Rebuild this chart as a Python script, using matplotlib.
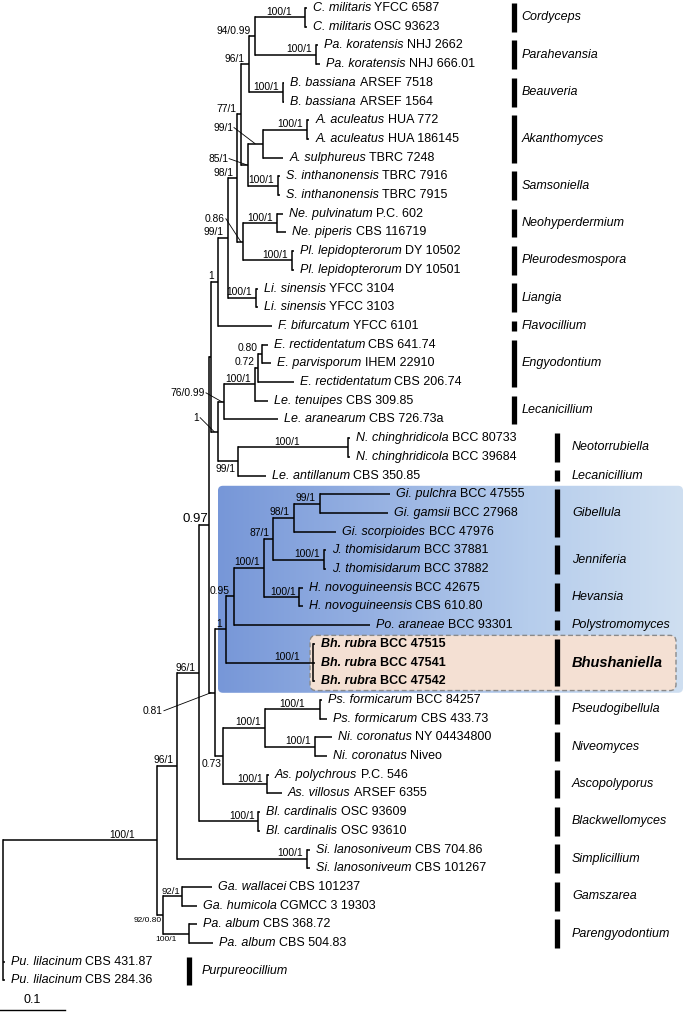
import matplotlib.pyplot as plt
import numpy as np
from matplotlib.patches import FancyBboxPatch
from matplotlib.colors import LinearSegmentedColormap

plt.rcParams['font.family'] = ['Liberation Sans', 'DejaVu Sans']

# tip labels, top to bottom
SPECIES = ["C. militaris", "C. militaris", "Pa. koratensis", "Pa. koratensis",
           "B. bassiana", "B. bassiana", "A. aculeatus", "A. aculeatus",
           "A. sulphureus", "S. inthanonensis", "S. inthanonensis",
           "Ne. pulvinatum", "Ne. piperis", "Pl. lepidopterorum",
           "Pl. lepidopterorum", "Li. sinensis", "Li. sinensis",
           "F. bifurcatum", "E. rectidentatum", "E. parvisporum",
           "E. rectidentatum", "Le. tenuipes", "Le. aranearum",
           "N. chinghridicola", "N. chinghridicola", "Le. antillanum",
           "Gi. pulchra", "Gi. gamsii", "Gi. scorpioides", "J. thomisidarum",
           "J. thomisidarum", "H. novoguineensis", "H. novoguineensis",
           "Po. araneae", "Bh. rubra", "Bh. rubra", "Bh. rubra",
           "Ps. formicarum", "Ps. formicarum", "Ni. coronatus", "Ni. coronatus",
           "As. polychrous", "As. villosus", "Bl. cardinalis", "Bl. cardinalis",
           "Si. lanosoniveum", "Si. lanosoniveum", "Ga. wallacei",
           "Ga. humicola", "Pa. album", "Pa. album", "Pu. lilacinum",
           "Pu. lilacinum"]
STRAINS = ["YFCC 6587", "OSC 93623", "NHJ 2662", "NHJ 666.01", "ARSEF 7518",
           "ARSEF 1564", "HUA 772", "HUA 186145", "TBRC 7248", "TBRC 7916",
           "TBRC 7915", "P.C. 602", "CBS 116719", "DY 10502", "DY 10501",
           "YFCC 3104", "YFCC 3103", "YFCC 6101", "CBS 641.74", "IHEM 22910",
           "CBS 206.74", "CBS 309.85", "CBS 726.73a", "BCC 80733", "BCC 39684",
           "CBS 350.85", "BCC 47555", "BCC 27968", "BCC 47976", "BCC 37881",
           "BCC 37882", "BCC 42675", "CBS 610.80", "BCC 93301", "BCC 47515",
           "BCC 47541", "BCC 47542", "BCC 84257", "CBS 433.73", "NY 04434800",
           "Niveo", "P.C. 546", "ARSEF 6355", "OSC 93609", "OSC 93610",
           "CBS 704.86", "CBS 101267", "CBS 101237", "CGMCC 3 19303",
           "CBS 368.72", "CBS 504.83", "CBS 431.87", "CBS 284.36"]
NEW_TIPS = [34, 35, 36]

# genus bars: name, first tip, last tip
CLADES = [("Cordyceps", 0, 1), ("Parahevansia", 2, 3), ("Beauveria", 4, 5),
          ("Akanthomyces", 6, 8), ("Samsoniella", 9, 10),
          ("Neohyperdermium", 11, 12), ("Pleurodesmospora", 13, 14),
          ("Liangia", 15, 16), ("Flavocillium", 17, 17),
          ("Engyodontium", 18, 20), ("Lecanicillium", 21, 22),
          ("Neotorrubiella", 23, 24), ("Lecanicillium", 25, 25),
          ("Gibellula", 26, 28), ("Jenniferia", 29, 30), ("Hevansia", 31, 32),
          ("Polystromomyces", 33, 33), ("Bhushaniella", 34, 36),
          ("Pseudogibellula", 37, 38), ("Niveomyces", 39, 40),
          ("Ascopolyporus", 41, 42), ("Blackwellomyces", 43, 44),
          ("Simplicillium", 45, 46), ("Gamszarea", 47, 48),
          ("Parengyodontium", 49, 50), ("Purpureocillium", 51, 52)]

# tree in newick pieces: branch lengths in substitutions/site, supports as labels
CM = "(t0:0.003,t1:0.003)100/1:0.077"
PK = "(t2:0.003,t3:0.005)100/1:0.095"
BB = "(t4:0.003,t5:0.003)100/1:0.052"
AK = "((t6:0.003,t7:0.003)100/1:0.068,t8:0.031)99/1:0.023"
SA = "(t9:0.003,t10:0.003)100/1:0.046"
NE = "(t11:0.009,t12:0.015)100/1:0.052"
PL = "(t13:0.003,t14:0.003)100/1:0.075"
LI = "(t15:0.003,t16:0.003)100/1:0.043"
N96 = f"(({CM},{PK})94/0.99:0.009,{BB})96/1:0.012"
N77 = f"({N96},({AK},{SA})85/1:0.011)77/1:0.006"
N98 = f"({N77},({NE},{PL})0.86:0.009)98/1:0.014"
UPPER = f"(({N98},{LI})99/1:0.015,t17:0.083)1:0.011"
ENG = ("((((t18:0.009,t19:0.015)0.80:0.005,t20:0.054)0.72:0.005,t21:0.020)"
       "100/1:0.048,t22:0.083)76/0.99:0.009")
NEO = "((t23:0.003,t24:0.003)100/1:0.169,t25:0.042)99/1:0.031"
LOWER = f"({ENG},{NEO})1:0.011"
GIB = ("((((t26:0.108,t27:0.105)99/1:0.040,t28:0.066)98/1:0.031,"
       "(t29:0.003,t30:0.003)100/1:0.078)87/1:0.015,"
       "(t31:0.005,t32:0.005)100/1:0.055)100/1:0.046")
BH = "(t34:0.003,t35:0.003,t36:0.003)100/1:0.134"
PSNI = ("((t37:0.003,t38:0.011)100/1:0.085,"
        "(t39:0.026,t40:0.018)100/1:0.077)100/1:0.065")
AS = "(t41:0.003,t42:0.023)100/1:0.068"
N081 = f"((({GIB},t33:0.209)0.95:0.012,{BH})1:0.017,({PSNI},{AS})0.73:0.012)0.81:0.009"
N097 = f"(({UPPER},{LOWER}):0.003,{N081})0.97:0.015"
N199 = f"({N097},(t43:0.003,t44:0.003)100/1:0.091)96/1:0.034"
N177 = f"({N199},(t45:0.005,t46:0.005)100/1:0.200)96/1:0.031"
GAPA = ("((t47:0.046,t48:0.023)92/1:0.029,"
        "(t49:0.012,t50:0.037)100/1:0.040)92/0.80:0.009")
TREE = f"(({N177},{GAPA})100/1:0.237,t51:0.003,t52:0.003);"


def parse(s):
    pos = 0

    def node():
        nonlocal pos
        kids = []
        if s[pos] == '(':
            pos += 1
            kids.append(node())
            while s[pos] == ',':
                pos += 1
                kids.append(node())
            pos += 1
        start = pos
        while s[pos] not in ':,);':
            pos += 1
        label = s[start:pos]
        length = 0.0
        if s[pos] == ':':
            pos += 1
            start = pos
            while s[pos] not in ',);':
                pos += 1
            length = float(s[start:pos])
        return {'label': label, 'len': length, 'kids': kids}

    return node()


def layout(nd, x0):
    nd['x'] = x0 + nd['len']
    if not nd['kids']:
        i = int(nd['label'][1:])
        nd['y'] = i
        nd['lo'] = nd['hi'] = i
        return
    for k in nd['kids']:
        layout(k, nd['x'])
    nd['y'] = (nd['kids'][0]['y'] + nd['kids'][-1]['y']) / 2
    nd['lo'] = nd['kids'][0]['lo']
    nd['hi'] = nd['kids'][-1]['hi']


def walk(nd):
    yield nd
    for k in nd['kids']:
        yield from walk(k)


root = parse(TREE)
layout(root, 0.0)
nodes = {(n['lo'], n['hi']): n for n in walk(root) if n['kids']}
tips = {n['lo']: n for n in walk(root) if not n['kids']}

PX = 1 / 650.0   # tree units per pixel
PY = 1 / 18.7    # row units per pixel

fig = plt.figure(figsize=(6.85, 10.16), dpi=100)
ax = fig.add_axes([0, 0, 1, 1])
ax.set_xlim(-3 * PX, 682 * PX)
ax.set_ylim(1008 * PY, -8 * PY)
ax.axis('off')

# highlighted boxes
nb = nodes[(26, 36)]
bx0, bx1 = nb['x'] - 8 * PX, 680 * PX
by0, by1 = 25.55, 36.62
blue = FancyBboxPatch((bx0, by0), bx1 - bx0, by1 - by0,
                      boxstyle='round,pad=0,rounding_size=%f' % (5 * PX),
                      mutation_aspect=PY / PX, fc='none', ec='none', zorder=0)
ax.add_patch(blue)
cmap = LinearSegmentedColormap.from_list(
    'bl', ['#7797d8', '#96b1e2', '#b6cdec', '#cfdff1'])
img = ax.imshow(np.linspace(0, 1, 256).reshape(1, -1), cmap=cmap,
                extent=(bx0, bx1, by1, by0), aspect='auto', zorder=0)
img.set_clip_path(blue)

nh = nodes[(34, 36)]
px0, px1 = nh['x'] - 3 * PX, 673 * PX
py0, py1 = 33.55, 36.5
ax.add_patch(FancyBboxPatch((px0, py0), px1 - px0, py1 - py0,
                            boxstyle='round,pad=0,rounding_size=%f' % (6 * PX),
                            mutation_aspect=PY / PX, fc='#f4e0d3',
                            ec='#8a8a8a', lw=1.0, ls=(0, (3.5, 2)), zorder=1))

# branches
LW = 1.1
for n in walk(root):
    if not n['kids']:
        continue
    ax.plot([n['x'], n['x']], [n['kids'][0]['y'], n['kids'][-1]['y']],
            color='k', lw=LW, solid_capstyle='projecting', zorder=3)
    for k in n['kids']:
        ax.plot([n['x'], k['x']], [k['y'], k['y']], color='k', lw=LW,
                solid_capstyle='butt', zorder=3)

# support value placement tweaks
PLACE = {
    (0, 50): dict(kind='above', dx=-22),
    (0, 1): dict(kind='above', dx=-13),
    (23, 24): dict(kind='above', dx=-48),
    (37, 38): dict(kind='above', dx=-15),
    (34, 36): dict(kind='above', dx=-13),
    (0, 42): dict(kind='above', dx=-1, size=9.5),
    (47, 48): dict(kind='above', dx=-2, size=6.8),
    (6, 8): dict(kind='leader', dx=-30, dy=-16, ex=-8),
    (6, 10): dict(kind='leader', dx=-20, dy=-6, ex=-2),
    (11, 14): dict(kind='leader', dx=-18, dy=-23, ex=-2),
    (18, 22): dict(kind='leader', dx=-19, dy=-9, ex=-2),
    (18, 25): dict(kind='leader', dx=-19, dy=-14, ex=-4),
    (26, 42): dict(kind='leader', dx=-52, dy=18, ex=-4),
    (23, 25): dict(kind='below', dx=-3),
    (37, 42): dict(kind='below', dx=-1),
    (47, 50): dict(kind='below', dx=-1, size=6),
    (49, 50): dict(kind='below', dx=-12, size=6),
}

for key, n in nodes.items():
    if not n['label'] or n is root:
        continue
    p = PLACE.get(key, {})
    kind = p.get('kind', 'above')
    size = p.get('size', 7.4)
    dx = p.get('dx', -4)
    if kind == 'above':
        ax.text(n['x'] + dx * PX, n['y'] - 2.5 * PY, n['label'], ha='right',
                va='baseline', fontsize=size, zorder=4)
    elif kind == 'below':
        ax.text(n['x'] + dx * PX, n['y'] + 2.5 * PY, n['label'], ha='right',
                va='top', fontsize=size, zorder=4)
    else:
        tx, ty = n['x'] + dx * PX, n['y'] + p['dy'] * PY
        ax.text(tx, ty, n['label'], ha='right', va='center', fontsize=size,
                zorder=4)
        ax.plot([tx + 1 * PX, n['x'] + p['ex'] * PX], [ty, n['y']],
                color='k', lw=0.6, zorder=3)

# tip labels
for i, (sp, st) in enumerate(zip(SPECIES, STRAINS)):
    t = tips[i]
    w = 'bold' if i in NEW_TIPS else 'normal'
    lab = ax.text(t['x'] + 6 * PX, t['y'], sp, style='italic', fontweight=w,
                  fontsize=9, ha='left', va='center', zorder=4)
    ax.annotate(st, xy=(1, 0), xycoords=lab, xytext=(2.5, 0),
                textcoords='offset points', ha='left', va='bottom',
                fontsize=9, fontweight=w, zorder=4)

# genus bars
for name, lo, hi in CLADES:
    if name == "Purpureocillium":
        xb, off = 185.5, 13
    elif hi <= 22:
        xb, off = 510.5, 8
    else:
        xb, off = 554, 15
    ax.plot([xb * PX, xb * PX], [lo - 0.27, hi + 0.27], color='k', lw=3.8,
            solid_capstyle='butt', zorder=4)
    bold = name == "Bhushaniella"
    ax.text((xb + off) * PX, (lo + hi) / 2, name, style='italic',
            fontweight='bold' if bold else 'normal',
            fontsize=10.5 if bold else 9, ha='left', va='center', zorder=4)

# scale bar
sy = 1002 * PY
ax.plot([-3 * PX, -3 * PX + 0.1], [sy, sy], color='k', lw=1.0)
ax.text(-3 * PX + 0.05, sy - 4 * PY, "0.1", ha='center', va='bottom',
        fontsize=9)

fig.savefig('out.png', dpi=100)
